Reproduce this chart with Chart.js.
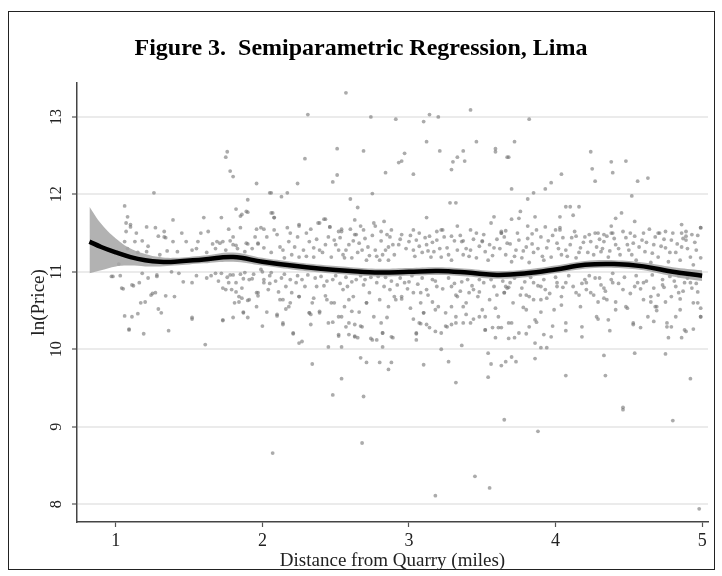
<!DOCTYPE html>
<html>
<head>
<meta charset="utf-8">
<script src="https://cdn.jsdelivr.net/npm/chart.js@4"></script>
<style>
  html, body { margin: 0; padding: 0; background: #fff; }
  #wrap { position: relative; width: 722px; height: 576px; }
  #frame { position: absolute; left: 8px; top: 11px; width: 705px; height: 557px; border: 1.5px solid #222; pointer-events: none; }
</style>
</head>
<body>
<div id="wrap">
  <canvas id="chart" width="722" height="576"></canvas>
  <div id="frame"></div>
</div>
<script>
// axis ticks
const xTicks = [1, 2, 3, 4, 5];
const yTicks = [8, 9, 10, 11, 12, 13];

// fitted semiparametric curve and its confidence band
const fitX = [0.82, 0.9, 1.0, 1.1, 1.2, 1.3, 1.4, 1.6, 1.8, 2.0, 2.2, 2.4, 2.6, 2.8, 3.0, 3.2, 3.4, 3.6, 3.8, 4.0, 4.2, 4.4, 4.6, 4.8, 5.0];
const fitY = [11.39, 11.32, 11.25, 11.19, 11.15, 11.13, 11.13, 11.16, 11.19, 11.13, 11.08, 11.04, 11.01, 10.99, 11.00, 11.01, 10.99, 10.96, 10.98, 11.03, 11.09, 11.10, 11.07, 11.00, 10.95];
const ciUpper = [11.84, 11.62, 11.43, 11.30, 11.23, 11.19, 11.18, 11.21, 11.25, 11.18, 11.13, 11.09, 11.06, 11.04, 11.05, 11.06, 11.04, 11.01, 11.03, 11.08, 11.14, 11.15, 11.12, 11.06, 11.02];
const ciLower = [10.98, 11.02, 11.07, 11.08, 11.07, 11.07, 11.08, 11.11, 11.13, 11.08, 11.03, 10.99, 10.96, 10.94, 10.95, 10.96, 10.94, 10.91, 10.93, 10.98, 11.04, 11.05, 11.02, 10.94, 10.88];

// observed sales: [distance, ln(price)]
const pointsHigh = [
  [2.57,13.31],[2.31,13.03],[2.74,13.00],[2.91,12.97],[3.10,12.94],[3.14,13.03],[3.20,13.00],[3.42,13.09],[3.82,12.97],
  [1.76,12.55],[1.75,12.48],[1.78,12.30],[1.80,12.23],[1.96,12.14],[1.26,12.02],[2.05,12.02],
  [2.29,12.46],[2.51,12.59],[2.69,12.56],[2.48,12.16],[2.51,12.25],[2.24,12.14],[2.84,12.28],[2.93,12.41],[2.95,12.43],
  [2.97,12.53],[3.03,12.26],[3.12,12.68],[3.21,12.56],[3.29,12.32],[3.30,12.42],[3.33,12.48],[3.37,12.56],[3.38,12.43],
  [3.46,12.68],[3.59,12.59],[3.59,12.55],[3.67,12.48],[2.06,12.02],[2.13,11.97],[2.17,12.02],[2.60,11.94],[2.75,12.01],
  [3.72,12.68],[3.68,12.48],[4.24,12.55],[4.25,12.33],[4.27,12.17],[4.38,12.42],[4.39,12.28],[4.48,12.43],[4.56,12.17],
  [4.63,12.21],[4.04,12.26],[3.97,12.15],[3.93,12.07],[3.85,12.02],[3.70,12.07],[3.81,11.94],[4.52,11.98]
];
const pointsUpper = [
  [1.06,11.85],[1.08,11.71],[1.07,11.63],[1.10,11.58],[1.21,11.58],[1.39,11.67],[1.60,11.70],[1.72,11.70],[1.82,11.81],
  [1.85,11.72],[1.90,11.93],[1.89,11.78],[1.90,11.77],[2.06,11.76],[2.08,11.70],[1.07,11.52],[1.14,11.50],[1.27,11.57],
  [1.29,11.46],[1.33,11.45],[1.48,11.39],[1.56,11.39],[1.63,11.52],[1.77,11.55],[1.85,11.57],[1.96,11.55],[1.99,11.57],
  [1.66,11.36],[1.71,11.37],[1.80,11.35],[1.89,11.37],[1.97,11.36],
  [2.65,11.83],[3.28,11.89],[3.32,11.89],[3.12,11.70],[3.33,11.59],[2.07,11.76],[2.08,11.70],[2.17,11.57],[2.25,11.59],
  [2.39,11.63],[2.43,11.68],[2.46,11.58],[2.52,11.52],[2.54,11.55],[2.63,11.67],[2.67,11.59],[2.77,11.59],[2.83,11.65],
  [2.81,11.52],[2.85,11.48],[2.95,11.48],[3.07,11.50],[3.14,11.46],[3.22,11.54],[3.29,11.46],[3.37,11.40],[3.50,11.40],
  [3.63,11.50],[3.66,11.53],[2.30,11.50],[2.63,11.48],
  [4.07,11.84],[4.10,11.84],[4.16,11.84],[4.12,11.73],[4.03,11.71],[3.86,11.71],[3.76,11.78],[3.70,11.68],[3.75,11.69],
  [4.45,11.76],[4.41,11.69],[4.54,11.65],[4.38,11.59],[4.86,11.61],[4.99,11.57],[4.64,11.55],[3.81,11.59],[3.93,11.58],
  [4.00,11.54],[4.03,11.57],[3.63,11.50],[3.84,11.49],[4.14,11.46],[4.27,11.50],[4.33,11.48],[4.39,11.50],[4.51,11.50],
  [4.70,11.50],[4.75,11.52],[4.86,11.50],[4.89,11.46],
  [1.10,11.61],[1.06,11.39],[1.13,11.39],[1.18,11.40],[1.21,11.26],[1.33,11.52],[1.34,11.44],[1.35,11.27],[1.39,11.39],
  [1.52,11.28],[1.69,11.39],[1.73,11.39],[1.80,11.45],[1.82,11.34],[1.86,11.74],[1.90,11.36],[1.97,11.37],[2.01,11.55],
  [2.01,11.31],[2.08,11.54],[2.12,11.32],[2.15,11.18],[2.18,11.39],[2.22,11.32],[2.25,11.61],[2.25,11.19],[2.32,11.39],
  [2.35,11.31],[2.35,11.19],[2.38,11.63],[2.39,11.28],[2.42,11.68],[2.43,11.35],[2.46,11.58],[2.47,11.19],[2.49,11.41],
  [2.52,11.28],[2.54,11.52],[2.55,11.22],[2.57,11.28],[2.59,11.35],[2.61,11.18],[2.64,11.48],[2.66,11.37],[2.68,11.28],
  [2.69,11.54],[2.71,11.15],[2.73,11.21],[2.76,11.63],[2.77,11.28],[2.80,11.15],[2.82,11.22],[2.86,11.32],[2.86,11.15],
  [2.88,11.54],[2.90,11.22],
  [3.23,11.54],[2.93,11.35],[3.00,11.39],[3.03,11.28],[3.05,11.41],[3.09,11.25],[3.12,11.35],[3.15,11.19],[3.17,11.26],
  [3.19,11.41],[3.22,11.19],[3.26,11.31],[3.29,11.15],[3.33,11.28],[3.36,11.39],[3.37,11.22],[3.42,11.28],[3.46,11.18],
  [3.50,11.39],[3.52,11.26],[3.54,11.15],[3.58,11.31],[3.63,11.52],[3.66,11.22],[3.67,11.37],[3.70,11.13],[3.73,11.28],
  [3.75,11.41],[3.77,11.18],[3.80,11.32],[3.82,11.12],[3.85,11.25],[3.90,11.45],[3.92,11.15],[3.94,11.31],[3.97,11.19],
  [4.01,11.37],[4.03,11.54],[4.04,11.22],[4.07,11.28],[4.11,11.44],[4.14,11.18],[4.17,11.31],[4.20,11.45],[4.22,11.25],
  [4.24,11.39],[4.28,11.32],[4.29,11.50],[4.31,11.26],[4.33,11.39],[4.36,11.19],[4.38,11.50],[4.41,11.35],[4.44,11.22],
  [4.48,11.44],[4.50,11.28],[4.53,11.37],[4.55,11.15],[4.59,11.41],[4.61,11.26],[4.65,11.12],[4.67,11.35],[4.70,11.19],
  [4.71,11.50],[4.75,11.31],[4.77,11.13],[4.79,11.41],[4.82,11.25],[4.85,11.15],[4.86,11.32],[4.89,11.41],[4.92,11.19],
  [4.94,11.09],[4.96,11.28],[4.99,11.57],[4.99,11.18],[4.93,11.48],[4.89,11.52],
  [3.42,11.54],[3.46,11.50],[3.56,11.63],[3.58,11.71],[3.87,11.54],[3.19,11.52],[3.03,11.54]
];
// clustered dots in the crowded band just above the curve
const pointsUpperDense = [
  [1.02,11.10],[1.08,11.30],[1.15,11.25],[1.22,11.33],[1.30,11.22],[1.42,11.26],[1.45,11.50],[1.55,11.30],[1.58,11.50],
  [1.62,11.25],[1.68,11.30],[1.75,11.28],[1.78,11.40],[1.83,11.30],[1.88,11.26],[1.93,11.30],[1.95,11.45],
  [2.03,11.45],[2.06,11.25],[2.10,11.48],[2.14,11.28],[2.19,11.50],[2.20,11.22],[2.24,11.45],[2.28,11.28],[2.30,11.20],
  [2.33,11.55],[2.37,11.42],[2.41,11.25],[2.45,11.45],[2.50,11.35],[2.53,11.44],[2.56,11.18],[2.60,11.55],[2.62,11.40],
  [2.65,11.25],[2.70,11.43],[2.72,11.32],[2.75,11.47],[2.78,11.20],[2.81,11.40],[2.84,11.28],[2.87,11.45],[2.89,11.35],
  [2.94,11.42],[2.98,11.30],[3.01,11.47],[3.04,11.20],[3.07,11.33],[3.11,11.44],[3.13,11.27],[3.16,11.38],[3.21,11.30],
  [3.24,11.45],[3.27,11.22],[3.31,11.40],[3.35,11.47],[3.39,11.30],[3.41,11.20],[3.44,11.42],[3.48,11.33],[3.51,11.48],
  [3.55,11.35],[3.57,11.21],[3.60,11.42],[3.62,11.30],[3.65,11.45],[3.69,11.36],[3.72,11.20],[3.74,11.50],[3.78,11.27],
  [3.81,11.43],[3.84,11.36],[3.88,11.30],[3.91,11.20],[3.95,11.40],[3.98,11.47],[4.02,11.30],[4.05,11.44],[4.08,11.20],
  [4.10,11.35],[4.13,11.52],[4.16,11.25],[4.19,11.38],[4.23,11.48],[4.26,11.22],[4.30,11.42],[4.32,11.30],[4.35,11.46],
  [4.37,11.27],[4.40,11.43],[4.43,11.30],[4.46,11.52],[4.49,11.35],[4.52,11.22],[4.54,11.46],[4.57,11.32],[4.60,11.50],
  [4.62,11.38],[4.66,11.24],[4.68,11.45],[4.72,11.33],[4.74,11.42],[4.78,11.25],[4.80,11.50],[4.83,11.36],[4.87,11.43],
  [4.90,11.30],[4.95,11.38],[4.97,11.47]
];
const pointsLower = [
  [0.98,10.94],[1.05,10.78],[1.12,10.82],[1.16,10.86],[1.06,10.43],[1.09,10.26],[1.15,10.46],[1.17,10.60],[1.20,10.61],
  [1.19,10.20],[1.25,10.72],[1.29,10.52],[1.31,10.47],[1.34,10.69],[1.36,10.24],[1.40,10.68],[1.28,10.96],[1.38,11.00],
  [1.46,10.87],[1.52,10.86],[1.52,10.39],[1.61,10.06],[1.65,10.95],[1.72,10.98],[1.73,10.37],[1.75,10.77],[1.77,10.86],
  [1.80,10.41],[1.80,10.96],[1.82,10.74],[1.84,10.61],[1.86,10.66],[1.87,10.91],[1.90,10.63],[1.90,10.41],[1.87,10.48],
  [1.93,10.91],[1.96,10.55],[1.97,10.73],[2.00,10.30],[2.01,10.86],[2.03,10.48],[2.05,10.85],[2.10,10.43],[2.00,11.00],
  [0.97,10.94],[1.04,10.79],[1.11,10.83],[1.11,10.42],[1.09,10.25],[1.24,10.70],[1.27,10.73],[1.28,10.94],[1.52,10.41],
  [1.73,10.79],[1.73,10.38],[1.78,10.96],[1.79,10.77],[1.81,10.60],[1.82,10.86],[1.84,10.68],[1.86,10.79],[1.87,10.47],
  [1.88,10.99],[1.91,10.90],[1.91,10.64],[1.96,10.73],[1.97,10.69],[1.99,11.03],[2.01,10.90],[2.04,10.77],[2.06,10.99],
  [2.12,10.64],[2.13,10.92],[2.14,10.32],[2.16,10.81],[2.18,10.55],[2.20,10.73],[2.21,10.21],[2.23,10.86],[2.25,10.68],
  [2.25,10.08],[2.29,10.81],[2.32,10.47],[2.33,10.32],[2.35,10.66],[2.37,10.81],[2.39,10.47],[2.42,10.82],[2.43,10.69],
  [2.45,10.34],[2.47,10.60],[2.48,10.90],[2.52,10.17],[2.52,10.42],[2.55,10.77],[2.56,10.55],[2.58,10.81],[2.59,10.34],
  [2.62,10.68],[2.63,10.17],[2.64,10.90],[2.66,10.48],[2.68,10.29],[2.69,10.83],[2.71,10.60],[2.73,10.73],[2.75,10.12],
  [2.76,10.42],[2.79,10.94],[2.80,10.64],[2.82,10.21],[2.83,10.81],[2.86,10.55],[2.87,10.77],[2.89,10.15],
  [3.22,10.00],[2.45,10.03],[2.54,10.03],[2.82,10.03],[2.27,10.10],[2.21,10.20],[2.14,10.34],[2.10,10.45],[2.32,10.47],
  [2.34,10.60],[2.39,10.49],[2.48,10.35],[2.52,10.19],[2.59,10.19],[2.63,10.16],[2.65,10.15],[2.63,10.32],[2.67,10.30],
  [2.74,10.14],[2.78,10.12],[2.82,10.21],[2.88,10.16],[2.81,10.34],[2.85,10.41],[2.95,10.65],[3.03,10.39],[3.05,10.20],
  [3.05,10.12],[3.08,10.33],[3.12,10.32],[3.14,10.28],[3.18,10.23],[3.22,10.21],[3.25,10.30],[3.29,10.32],[3.32,10.34],
  [3.36,10.05],[3.37,10.34],[3.39,10.45],[3.44,10.39],[3.48,10.42],[3.52,10.25],[3.57,10.28],[3.61,10.28],[3.59,10.15],
  [3.52,10.42],[3.37,10.55],[3.18,10.51],[3.10,10.47],[3.29,10.55],[3.16,10.61],[2.61,10.49],[2.71,10.60],[2.59,10.64],
  [2.54,10.42],[2.57,10.29],[2.49,10.60],[2.44,10.64],[2.14,10.64],[2.19,10.60],[2.16,10.52],[2.11,10.74],[2.25,10.68],
  [2.33,10.45],[2.97,10.86],[2.90,10.68],[2.91,10.64],[3.01,10.53],[3.08,10.73],[3.32,10.70],[3.41,10.73],[3.48,10.74],
  [3.59,10.53],[3.66,10.81],
  [3.90,10.02],[3.94,10.02],[3.68,10.14],[3.72,10.15],[3.86,10.08],[3.92,10.19],[3.80,10.20],[3.82,10.29],[3.86,10.38],
  [3.70,10.34],[3.63,10.28],[3.98,10.30],[4.07,10.24],[4.18,10.29],[4.18,10.16],[4.29,10.39],[4.36,10.38],[4.37,10.24],
  [4.49,10.53],[4.53,10.32],[4.58,10.28],[4.67,10.36],[4.77,10.15],[4.79,10.29],[4.86,10.15],[4.89,10.23],[4.94,10.26],
  [4.99,10.42],[4.99,10.53],[4.82,10.42],[4.76,10.34],[4.68,10.55],[4.69,10.50],[4.65,10.61],[4.29,10.61],[4.41,10.61],
  [4.33,10.66],[4.04,10.57],[3.90,10.48],[3.78,10.54],[3.94,10.66],[3.85,10.64],[3.65,10.73],[3.67,10.79],[3.80,10.70],
  [3.90,10.81],[4.01,10.81],[4.07,10.86],[4.16,10.70],[4.21,10.77],[4.21,10.86],[4.27,10.92],[4.33,10.79],[4.39,10.86],
  [4.54,10.81],[4.60,10.86],[4.65,10.68],[4.73,10.83],[4.84,10.73],[4.85,10.65],[4.93,10.79],[4.97,10.60],[4.75,10.61],
  [4.88,10.86],
  [2.92,10.83],[2.95,10.68],[3.00,10.87],[3.03,10.73],[3.08,10.60],[3.10,10.47],[3.07,10.34],[3.05,10.21],[3.12,10.77],
  [3.16,10.90],[3.19,10.81],[3.20,10.55],[3.25,10.47],[3.26,10.29],[3.29,10.81],[3.32,10.42],[3.33,10.68],[3.36,10.87],
  [3.39,10.60],[3.42,10.34],[3.44,10.77],[3.48,10.90],[3.50,10.51],[3.52,10.25],[3.55,10.64],[3.58,10.81],[3.61,10.42],
  [3.65,10.73],[3.68,10.34],[3.69,10.86],[3.71,10.60],[3.75,10.21],[3.77,10.79],[3.80,10.51],[3.82,10.68],[3.85,10.86],
  [3.87,10.35],[3.90,10.64],[3.93,10.77],[3.97,10.16],[3.99,10.51],[4.01,10.86],[4.04,10.68],[4.07,10.34],[4.12,10.81],
  [4.17,10.55],[4.20,10.90],[4.24,10.73],[4.28,10.42],[4.31,10.83],[4.35,10.64],[4.38,10.90],[4.41,10.51],[4.46,10.77],
  [4.48,10.55],[4.53,10.34],[4.56,10.86],[4.60,10.64],[4.63,10.42],[4.67,10.79],[4.69,10.55],[4.73,10.90],[4.76,10.29],
  [4.79,10.68],[4.82,10.81],[4.85,10.51],[4.88,10.25],[4.92,10.86],[4.94,10.60],[4.97,10.74],[4.99,10.42]
];
// clustered dots just below the curve
const pointsLowerDense = [
  [1.03,10.95],[1.18,10.98],[1.22,10.92],[1.43,10.98],[1.55,10.95],[1.62,10.92],[1.68,10.98],[1.70,10.88],[1.76,10.93],
  [1.85,10.97],[1.94,10.97],
  [2.05,10.95],[2.09,10.88],[2.15,10.97],[2.19,10.90],[2.24,10.95],[2.27,10.90],[2.31,10.96],[2.36,10.92],[2.40,10.94],
  [2.44,10.88],[2.50,10.95],[2.53,10.85],[2.57,10.93],[2.61,10.87],[2.67,10.95],[2.70,10.90],[2.74,10.93],[2.78,10.86],
  [2.84,10.93],[2.88,10.88],
  [2.94,10.92],[2.99,10.78],[3.02,10.95],[3.06,10.84],[3.09,10.92],[3.13,10.70],[3.18,10.88],[3.23,10.78],[3.27,10.92],
  [3.31,10.85],[3.35,10.75],[3.40,10.90],[3.43,10.82],[3.47,10.68],[3.51,10.86],[3.56,10.90],[3.60,10.70],[3.64,10.88],
  [3.68,10.80],[3.72,10.92],[3.76,10.70],[3.79,10.87],[3.83,10.93],[3.88,10.82],[3.92,10.90],[3.96,10.72],[4.00,10.93],
  [4.05,10.80],[4.09,10.95],[4.14,10.73],[4.18,10.85],[4.23,10.95],[4.26,10.70],[4.30,10.92],[4.34,10.75],[4.39,10.98],
  [4.43,10.85],[4.47,10.93],[4.51,10.72],[4.55,10.95],[4.58,10.78],[4.62,10.88],[4.66,10.96],[4.70,10.70],[4.74,10.80],
  [4.78,10.94],[4.81,10.88],[4.84,10.95],[4.87,10.75],[4.90,10.92],[4.96,10.85]
];
const pointsLow = [
  [2.67,9.89],[2.34,9.81],[2.71,9.83],[2.80,9.83],[2.88,9.83],[2.86,9.74],[2.54,9.62],[2.48,9.41],[2.69,9.39],[3.10,9.80],
  [3.27,9.84],[3.32,9.57],[3.54,9.95],[3.56,9.81],[3.54,9.64],[3.63,9.79],[3.66,9.84],[3.70,9.90],[3.73,9.84],[3.86,9.88],
  [4.07,9.66],[4.34,9.66],[4.92,9.62],[4.33,9.92],[4.54,9.95],[4.75,9.94],[4.46,9.25],
  [2.07,8.66],[2.68,8.79],[3.18,8.11],[3.45,8.36],[3.55,8.21],[3.65,9.09],[3.88,8.94],[4.46,9.22],[4.80,9.08],[4.98,7.94]
];

const toXY = arr => arr.map(p => ({ x: p[0], y: p[1] }));
const salePoints = toXY(pointsHigh.concat(pointsUpper, pointsUpperDense, pointsLower, pointsLowerDense, pointsLow));
const fitLine = fitX.map((x, i) => ({ x: x, y: fitY[i] }));
const bandTop = fitX.map((x, i) => ({ x: x, y: ciUpper[i] }));
const bandBottom = fitX.map((x, i) => ({ x: x, y: ciLower[i] }));

const serif = "'Liberation Serif', 'Times New Roman', serif";

new Chart(document.getElementById('chart'), {
    type: 'scatter',
    data: {
        datasets: [
            {
                type: 'line',
                data: fitLine,
                borderColor: '#000',
                borderWidth: 4.5,
                pointRadius: 0,
                tension: 0.4,
                fill: false,
                order: 0
            },
            {
                type: 'line',
                data: bandTop,
                borderWidth: 0,
                borderColor: 'rgba(0,0,0,0)',
                backgroundColor: 'rgba(165,165,165,0.85)',
                pointRadius: 0,
                tension: 0.4,
                fill: '+1',
                order: 1
            },
            {
                type: 'line',
                data: bandBottom,
                borderWidth: 0,
                borderColor: 'rgba(0,0,0,0)',
                pointRadius: 0,
                tension: 0.4,
                fill: false,
                order: 1
            },
            {
                data: salePoints,
                backgroundColor: 'rgba(115,115,115,0.6)',
                borderWidth: 0,
                pointRadius: 1.9,
                order: 2
            }
        ]
    },
    options: {
        responsive: false,
        animation: false,
        layout: { padding: 0 },
        plugins: {
            legend: { display: false },
            tooltip: { enabled: false },
            title: {
                display: true,
                text: 'Figure 3.  Semiparametric Regression, Lima',
                color: '#000',
                font: { family: serif, size: 24, weight: 'bold' },
                padding: { top: 34, bottom: 20 }
            }
        },
        scales: {
            x: {
                type: 'linear',
                min: 0.735,
                max: 5.04,
                afterBuildTicks: scale => { scale.ticks = xTicks.map(v => ({ value: v })); },
                afterFit: scale => { scale.height = 54; },
                grid: { drawOnChartArea: false, tickLength: 5, tickColor: '#555', tickWidth: 1.2 },
                border: { color: '#444', width: 1.5 },
                ticks: { color: '#222', padding: 3, font: { family: serif, size: 18 } },
                title: {
                    display: true,
                    text: 'Distance from Quarry (miles)',
                    color: '#222',
                    font: { family: serif, size: 19 },
                    padding: { top: 0, bottom: 4 }
                }
            },
            y: {
                min: 7.77,
                max: 13.44,
                afterBuildTicks: scale => { scale.ticks = yTicks.map(v => ({ value: v })); },
                afterFit: scale => { scale.width = 77; },
                grid: { color: '#ebebeb', lineWidth: 2, tickLength: 5, tickColor: '#555', tickWidth: 1.2 },
                border: { color: '#444', width: 1.5 },
                ticks: {
                    color: '#222',
                    padding: 7,
                    minRotation: 90,
                    maxRotation: 90,
                    crossAlign: 'center',
                    font: { family: serif, size: 16 }
                },
                title: {
                    display: true,
                    text: 'ln(Price)',
                    color: '#222',
                    font: { family: serif, size: 19 },
                    padding: { top: 28, bottom: 0 }
                }
            },
            // empty right-hand strip so the plot stops short of the frame
            yRight: {
                position: 'right',
                min: 7.77,
                max: 13.44,
                afterFit: scale => { scale.width = 14; },
                grid: { display: false },
                border: { display: false },
                ticks: { display: false }
            }
        }
    }
});
</script>
</body>
</html>
